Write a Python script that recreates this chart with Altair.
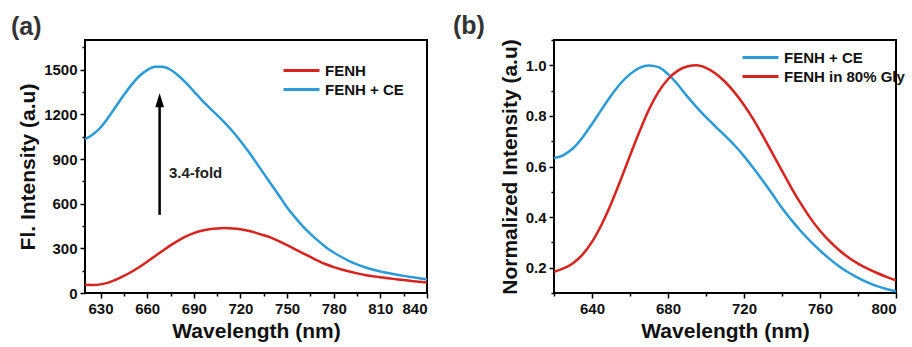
import altair as alt
import pandas as pd

# ---------------- data ----------------
wl_a = list(range(620, 845, 5))
fenh_a = [55, 54, 58, 70, 90, 115, 143, 175, 210, 247, 284, 320, 352, 380, 402, 418,
          428, 434, 436, 434, 428, 418, 404, 388, 370, 347, 321, 295, 268, 242, 216,
          193, 174, 158, 144, 132, 121, 113, 106, 99, 93, 87, 81, 76, 71]
fenh_ce_a = [1033, 1065, 1112, 1180, 1255, 1330, 1400, 1458, 1498, 1520, 1520, 1500,
             1462, 1412, 1355, 1298, 1245, 1195, 1143, 1085, 1022, 952, 878, 802, 727,
             652, 575, 510, 450, 397, 350, 308, 272, 242, 215, 192, 173, 158, 145, 134,
             124, 115, 107, 99, 92]

wl_b = list(range(620, 805, 5))
fenh_ce_b = [0.633, 0.645, 0.672, 0.715, 0.768, 0.825, 0.880, 0.928, 0.965, 0.990, 0.999,
             0.993, 0.965, 0.925, 0.878, 0.835, 0.795, 0.758, 0.722, 0.684, 0.641, 0.593,
             0.543, 0.490, 0.436, 0.388, 0.344, 0.304, 0.268, 0.235, 0.206, 0.181, 0.160,
             0.142, 0.127, 0.116, 0.107]
fenh_gly_b = [0.184, 0.197, 0.218, 0.252, 0.302, 0.37, 0.452, 0.545, 0.643, 0.738, 0.825,
              0.895, 0.945, 0.978, 0.995, 1.0, 0.99, 0.968, 0.935, 0.893, 0.843, 0.785,
              0.72, 0.652, 0.583, 0.515, 0.452, 0.395, 0.346, 0.305, 0.27, 0.24, 0.216,
              0.196, 0.179, 0.164, 0.150]

series_a = ["FENH", "FENH + CE"]
series_b = ["FENH + CE", "FENH in 80% Gly"]

xa_major = [630, 660, 690, 720, 750, 780, 810, 840]
xa_minor = [645, 675, 705, 735, 765, 795, 825]
ya_major = [0, 300, 600, 900, 1200, 1500]
ya_minor = [150, 450, 750, 1050, 1350, 1650]
xb_major = [640, 680, 720, 760, 800]
xb_minor = [620, 660, 700, 740, 780]
yb_major = [0.2, 0.4, 0.6, 0.8, 1.0]
yb_minor = [0.1, 0.3, 0.5, 0.7, 0.9, 1.1]

arrow_x = [668]
arrow_y0 = [525]
arrow_y1 = [1262]
arrow_head_y = [1295]
fold_x = [674]
fold_y = [806]
fold_text = ["3.4-fold"]

RED = "#d8231e"
BLUE = "#2a9bd8"
FONT = "Liberation Sans"
W, H = 342, 253

df_a = pd.DataFrame({
    "wl": wl_a * 2,
    "val": fenh_a + fenh_ce_a,
    "series": [series_a[0]] * len(wl_a) + [series_a[1]] * len(wl_a),
})
df_b = pd.DataFrame({
    "wl": wl_b * 2,
    "val": fenh_ce_b + fenh_gly_b,
    "series": [series_b[0]] * len(wl_b) + [series_b[1]] * len(wl_b),
})


def legend(x, y):
    return alt.Legend(orient="none", legendX=x, legendY=y, title=None,
                      symbolType="M-3,0H1", symbolSize=324, symbolStrokeWidth=3,
                      labelFont=FONT, labelFontSize=15, labelFontWeight="bold",
                      labelColor="#111", labelOffset=4, rowPadding=0, padding=0)


def panel(df, xdom, xmaj, xmin, ydom, ymaj, ymin, yfmt, ytitle, sdomain, srange,
          legx, legy):
    xs = alt.Scale(domain=xdom, nice=False, zero=False)
    ys = alt.Scale(domain=ydom, nice=False, zero=False)
    lines = alt.Chart(df).mark_line(strokeWidth=2.5, clip=True,
                                    interpolate="monotone").encode(
        x=alt.X("wl:Q", scale=xs,
                axis=alt.Axis(values=xmaj, title="Wavelength (nm)", orient="bottom",
                              ticks=True, tickSize=5, format="d")),
        y=alt.Y("val:Q", scale=ys,
                axis=alt.Axis(values=ymaj, title=ytitle, orient="left", ticks=True,
                              tickSize=5, format=yfmt, titlePadding=5)),
        color=alt.Color("series:N", scale=alt.Scale(domain=sdomain, range=srange),
                        legend=legend(legx, legy)),
        detail="series:N",
    )
    minor = alt.Chart(df).mark_point(opacity=0).encode(
        x=alt.X("wl:Q", scale=xs,
                axis=alt.Axis(values=xmin, title=None, labels=False, orient="bottom",
                              ticks=True, tickSize=3)),
        y=alt.Y("val:Q", scale=ys,
                axis=alt.Axis(values=ymin, title=None, labels=False, orient="left",
                              ticks=True, tickSize=3)),
    )
    return [lines, minor]


layers_a = panel(df_a, [620, 840], xa_major, xa_minor, [0, 1700], ya_major,
                 ya_minor, "d", "Fl. Intensity (a.u)", series_a, [RED, BLUE], 215, 20)

ann = pd.DataFrame({"x": arrow_x, "y0": arrow_y0, "y1": arrow_y1, "yh": arrow_head_y,
                    "tx": fold_x, "ty": fold_y, "t": fold_text})
xs_a = alt.Scale(domain=[620, 840], nice=False, zero=False)
ys_a = alt.Scale(domain=[0, 1700], nice=False, zero=False)
arrow_line = alt.Chart(ann).mark_rule(color="black", strokeWidth=2.5).encode(
    x=alt.X("x:Q", scale=xs_a, axis=None),
    y=alt.Y("y0:Q", scale=ys_a, axis=None),
    y2="y1:Q",
)
arrow_head = alt.Chart(ann).mark_point(
    shape="M0,-1L0.62,1L-0.62,1Z", filled=True, color="black", opacity=1, size=200
).encode(
    x=alt.X("x:Q", scale=xs_a, axis=None),
    y=alt.Y("yh:Q", scale=ys_a, axis=None),
)
fold = alt.Chart(ann).mark_text(
    align="left", baseline="middle", font=FONT, fontSize=15, fontWeight="bold",
    color="#222"
).encode(
    x=alt.X("tx:Q", scale=xs_a, axis=None),
    y=alt.Y("ty:Q", scale=ys_a, axis=None),
    text="t:N",
)

title_kw = dict(anchor="start", frame="group", fontSize=25, font=FONT,
                fontWeight="bold", color="#333", offset=0)

chart_a = alt.layer(*layers_a, arrow_line, arrow_head, fold).resolve_axis(
    x="independent", y="independent"
).properties(width=W, height=H, title=alt.Title("(a)", dx=-74, **title_kw))

layers_b = panel(df_b, [620, 800], xb_major, xb_minor, [0.1, 1.1], yb_major,
                 yb_minor, ".1f", "Normalized Intensity (a.u)", series_b,
                 [BLUE, RED], 205, 7)
chart_b = alt.layer(*layers_b).resolve_axis(
    x="independent", y="independent"
).properties(width=W, height=H, title=alt.Title("(b)", dx=-101, **title_kw))

chart = alt.hconcat(chart_a, chart_b, spacing=127, bounds="flush").resolve_scale(
    color="independent"
).properties(
    padding={"left": 10, "top": 12, "right": 5, "bottom": 5}
).configure_view(
    stroke="black", strokeWidth=2
).configure_axis(
    grid=False, domain=False, labelFont=FONT, labelFontSize=15,
    labelFontWeight="bold", labelColor="#111", labelPadding=3,
    titleFont=FONT, titleFontSize=21, titleFontWeight="bold", titleColor="#111",
    tickColor="black", tickWidth=1.5
).configure_axisX(titlePadding=4)

chart.save("out.html", embed_options={"renderer": "svg", "actions": False})
